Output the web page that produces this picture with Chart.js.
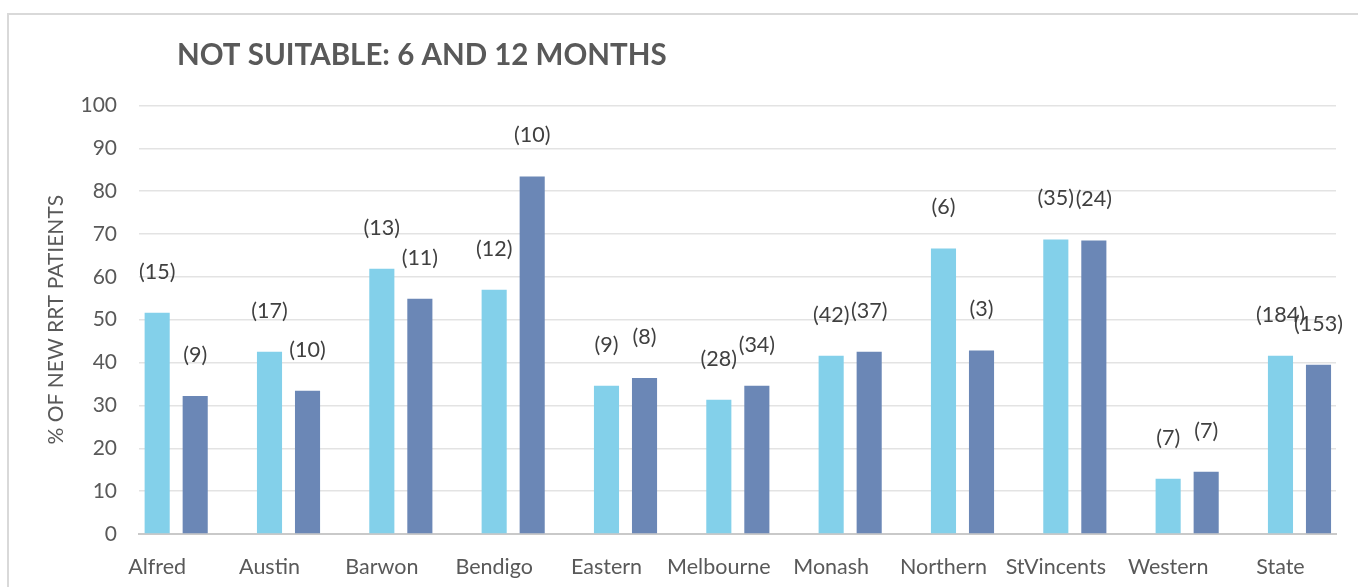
<!DOCTYPE html>
<html>
<head>
<meta charset="utf-8">
<script src="https://cdn.jsdelivr.net/npm/chart.js@4/dist/chart.umd.min.js"></script>
<style>
  html, body { margin: 0; padding: 0; background: #fff; }
  #wrap { position: relative; width: 1358px; height: 587px; overflow: hidden; }
  #frame { position: absolute; left: 7px; top: 13px; width: 1400px; height: 700px; border: 2px solid #d9d9d9; box-sizing: border-box; }
  #c { position: absolute; left: 0; top: 0; }
</style>
</head>
<body>
<div id="wrap">
  <div id="frame"></div>
  <canvas id="c" width="1358" height="587"></canvas>
</div>
<script>
const categories = ['Alfred', 'Austin', 'Barwon', 'Bendigo', 'Eastern', 'Melbourne', 'Monash', 'Northern', 'StVincents', 'Western', 'State'];
const sixMonths = [51.6, 42.5, 61.9, 57.0, 34.6, 31.3, 41.6, 66.6, 68.7, 12.9, 41.6];
const twelveMonths = [32.2, 33.4, 54.9, 83.4, 36.4, 34.6, 42.5, 42.8, 68.5, 14.5, 39.5];
const sixMonthsCounts = [15, 17, 13, 12, 9, 28, 42, 6, 35, 7, 184];
const twelveMonthsCounts = [9, 10, 11, 10, 8, 34, 37, 3, 24, 7, 153];
const yTicks = [0, 10, 20, 30, 40, 50, 60, 70, 80, 90, 100];
const titleText = 'NOT SUITABLE: 6 AND 12 MONTHS';
const yAxisTitle = '% OF NEW RRT PATIENTS';

const FONT = 'Lato, "Open Sans", sans-serif';

const countLabels = {
  id: 'countLabels',
  afterDatasetsDraw(chart) {
    const ctx = chart.ctx;
    const counts = [sixMonthsCounts, twelveMonthsCounts];
    ctx.save();
    ctx.font = '21.5px ' + FONT;
    ctx.fillStyle = '#404040';
    ctx.textAlign = 'center';
    ctx.textBaseline = 'middle';
    chart.data.datasets.forEach((ds, di) => {
      const meta = chart.getDatasetMeta(di);
      meta.data.forEach((el, i) => {
        ctx.fillText('(' + counts[di][i] + ')', el.x, el.y - 41);
      });
    });
    ctx.restore();
  }
};

const titleShift = {
  id: 'titleShift',
  afterLayout(chart) {
    if (chart.titleBlock) {
      chart.titleBlock.left = 177;
    }
  }
};

new Chart(document.getElementById('c'), {
  type: 'bar',
  data: {
    datasets: [
      {
        label: '6 months',
        data: sixMonths.map((v, i) => ({ x: i, y: v })),
        backgroundColor: '#83d0ea',
        categoryPercentage: 0.677,
        barPercentage: 0.66
      },
      {
        label: '12 months',
        data: twelveMonths.map((v, i) => ({ x: i, y: v })),
        backgroundColor: '#6b87b6',
        categoryPercentage: 0.677,
        barPercentage: 0.66
      }
    ]
  },
  options: {
    responsive: false,
    animation: false,
    layout: { padding: { left: 0, right: 22, top: 14, bottom: 0 } },
    plugins: {
      legend: { display: false },
      tooltip: { enabled: false },
      title: {
        display: true,
        text: titleText,
        align: 'start',
        color: '#595959',
        font: { family: FONT, size: 29.5, weight: 'bold', lineHeight: 1.2 },
        padding: { top: 24, bottom: 32 }
      }
    },
    scales: {
      x: {
        type: 'linear',
        offset: false,
        min: -0.331,
        max: 10.325,
        grid: { display: false },
        border: { display: true, color: '#c9c9c9', width: 2 },
        afterBuildTicks(scale) {
          scale.ticks = categories.map((_, i) => ({ value: i }));
        },
        afterFit(scale) { scale.height = 53; },
        ticks: {
          autoSkip: false,
          maxRotation: 0,
          labelOffset: -19,
          padding: 12,
          color: '#595959',
          font: { family: FONT, size: 21.5 },
          callback: (v) => categories[v] !== undefined ? categories[v] : ''
        }
      },
      y: {
        min: 0,
        max: 100,
        afterBuildTicks(scale) {
          scale.ticks = yTicks.map(v => ({ value: v }));
        },
        afterFit(scale) { scale.width = 139; },
        grid: { color: '#e3e3e3', lineWidth: 1.5, drawTicks: false },
        border: { display: false },
        ticks: {
          padding: 22,
          color: '#595959',
          font: { family: FONT, size: 21 }
        },
        title: {
          display: true,
          text: yAxisTitle,
          color: '#595959',
          font: { family: FONT, size: 21 },
          padding: { top: 44, bottom: 0 }
        }
      }
    }
  },
  plugins: [countLabels, titleShift]
});
</script>
</body>
</html>
